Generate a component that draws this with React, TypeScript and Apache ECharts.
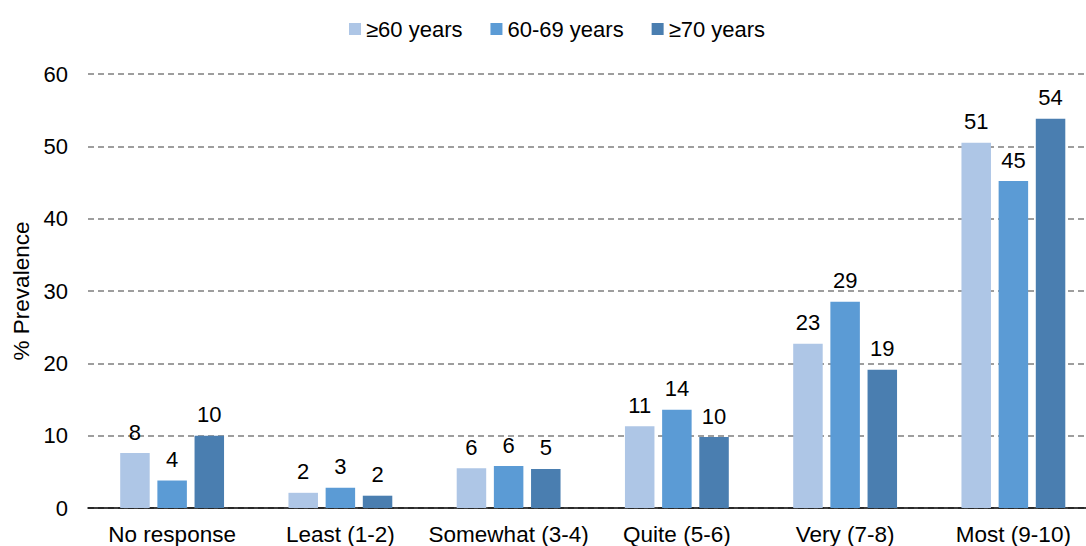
import React, { useEffect, useRef } from "react";
import * as echarts from "echarts";

const categories = ["No response", "Least (1-2)", "Somewhat (3-4)", "Quite (5-6)", "Very (7-8)", "Most (9-10)"];
const seriesNames = ["≥60 years", "60-69 years", "≥70 years"];
const age60plus = [7.6, 2.1, 5.5, 11.3, 22.7, 50.5];
const age60to69 = [3.8, 2.8, 5.8, 13.6, 28.5, 45.2];
const age70plus = [10.0, 1.7, 5.4, 9.8, 19.1, 53.8];
const yTicks = [0, 10, 20, 30, 40, 50, 60];
const colors = ["#AEC6E6", "#5B9BD5", "#4A7EB0"];

const FONT = "Liberation Sans, Arial, sans-serif";

export default function App() {
  const ref = useRef<HTMLDivElement>(null);
  useEffect(() => {
    if (!ref.current) return;
    const chart = echarts.init(ref.current, undefined, { renderer: "svg" });
    const data = [age60plus, age60to69, age70plus];
    chart.setOption({
      animation: false,
      textStyle: { fontFamily: FONT },
      legend: {
        top: 13,
        left: 344,
        itemWidth: 12,
        itemHeight: 12,
        itemGap: 28,
        icon: "rect",
        textStyle: { fontSize: 22, color: "#000", fontFamily: FONT },
        data: seriesNames,
      },
      grid: {
        left: 88,
        top: 74,
        width: 1009.5,
        height: 434,
        containLabel: false,
        outerBoundsMode: "none",
      },
      xAxis: {
        type: "category",
        data: categories,
        axisLine: { lineStyle: { color: "#000", width: 1.5 } },
        axisTick: { show: false },
        axisLabel: { fontSize: 22.5, color: "#000", margin: 15, fontFamily: FONT, interval: 0 },
      },
      yAxis: {
        type: "value",
        min: yTicks[0],
        max: yTicks[yTicks.length - 1],
        interval: 10,
        name: "% Prevalence",
        nameLocation: "middle",
        nameGap: 50,
        nameTextStyle: { fontSize: 22.5, color: "#000", fontFamily: FONT },
        axisLine: { show: false },
        axisTick: { show: false },
        axisLabel: { fontSize: 22, color: "#000", margin: 20, fontFamily: FONT },
        splitLine: { lineStyle: { color: "#7f7f7f", type: [6, 4], width: 1.5 } },
      },
      series: seriesNames.map((name, i) => ({
        name,
        type: "bar",
        data: data[i],
        barWidth: 29.5,
        barGap: "26%",
        itemStyle: { color: colors[i] },
        label: {
          show: true,
          position: "top",
          distance: 10,
          fontSize: 22,
          color: "#000",
          fontFamily: FONT,
          formatter: (p: any) => String(Math.round(p.value)),
        },
      })),
    });
    return () => chart.dispose();
  }, []);
  return (
    <div
      ref={ref}
      style={{ position: "fixed", left: 0, top: 0, width: 1086, height: 546, background: "#fff" }}
    />
  );
}
